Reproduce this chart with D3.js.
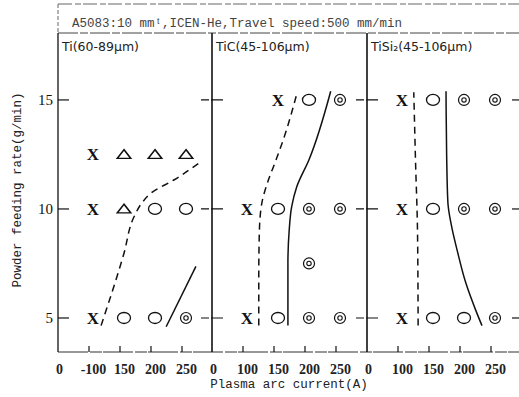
<!DOCTYPE html>
<html>
<head>
<meta charset="utf-8">
<script src="https://cdn.jsdelivr.net/npm/d3@7"></script>
<style>
  body { margin: 0; background: #fff; }
  svg { display: block; }
  .serif { font-family: "Liberation Serif", "Times New Roman", serif; }
</style>
</head>
<body>
<div id="chart"></div>
<script>
// Chart data
var panels = ["Ti(60-89\u03bcm)", "TiC(45-106\u03bcm)", "TiSi\u2082(45-106\u03bcm)"];
var xTicks = [50, 100, 150, 200, 250];
var xTickLabels = [["0", "-100", "150", "200", "250"], ["0", "100", "150", "200", "250"], ["0", "100", "150", "200", "250"]];
var yTicks = [5, 10, 15];
var headerText = "A5083:10 mm\u1d57,ICEN-He,Travel speed:500 mm/min";

// markers: [panel, current, feed rate, type]  x = no bead, t = triangle, o = circle, d = double circle
var markers = [
  [0, 100, 12.5, "x"], [0, 150, 12.5, "t"], [0, 200, 12.5, "t"], [0, 250, 12.5, "t"],
  [0, 100, 10, "x"], [0, 150, 10, "t"], [0, 200, 10, "o"], [0, 250, 10, "o"],
  [0, 100, 5, "x"], [0, 150, 5, "o"], [0, 200, 5, "o"], [0, 250, 5, "d"],
  [1, 150, 15, "x"], [1, 200, 15, "o"], [1, 250, 15, "d"],
  [1, 100, 10, "x"], [1, 150, 10, "o"], [1, 200, 10, "d"], [1, 250, 10, "d"],
  [1, 200, 7.5, "d"],
  [1, 100, 5, "x"], [1, 150, 5, "o"], [1, 200, 5, "d"], [1, 250, 5, "d"],
  [2, 100, 15, "x"], [2, 150, 15, "o"], [2, 200, 15, "d"], [2, 250, 15, "d"],
  [2, 100, 10, "x"], [2, 150, 10, "o"], [2, 200, 10, "d"], [2, 250, 10, "d"],
  [2, 100, 5, "x"], [2, 150, 5, "o"], [2, 200, 5, "o"], [2, 250, 5, "d"]
];

// boundary lines [current, feed rate]
var tiDashed = [[113, 4.65], [150, 7.97], [166, 9.63], [179, 10.28], [194, 10.74], [231, 11.34], [273, 12.15]];
var tiSolid = [[218, 4.6], [266, 7.37]];
var ticDashed = [[181, 15.35], [160, 13.3], [147, 12.26], [133, 11.2], [124, 10.28], [120, 9.0], [119, 7.0], [119, 4.65]];
var ticSolid = [[235, 15.4], [200, 12.26], [180, 11.0], [172, 10.1], [168, 9.0], [166, 7.5], [166, 4.65]];
var tisiDashed = [[119, 15.35], [122, 12], [125, 9], [126, 4.65]];
var tisiSolid = [[171, 15.4], [172, 12.5], [174, 10.3], [180, 9.2], [189, 8.1], [203, 6.6], [219, 5.35], [229, 4.65]];

var lines = [
  { panel: 0, pts: tiDashed, dash: true },
  { panel: 0, pts: tiSolid, dash: false },
  { panel: 1, pts: ticDashed, dash: true },
  { panel: 1, pts: ticSolid, dash: false },
  { panel: 2, pts: tisiDashed, dash: true },
  { panel: 2, pts: tisiSolid, dash: false }
];

var W = 519, H = 397;
var panelLeft = [58, 212, 367];
var plotTop = 33, plotBottom = 352, headTop = 4;

var svg = d3.select("#chart").append("svg").attr("width", W).attr("height", H);

var y = d3.scaleLinear().domain([3.44, 18.07]).range([plotBottom, plotTop]);
// each panel has the same broken current axis, offset by panel left
var x = d3.scaleLinear().domain([100, 250]).range([35, 128]);
function px(p, a) { return panelLeft[p] + x(a); }

var ink = "#111";

// header box
svg.append("line").attr("x1", 58).attr("x2", W).attr("y1", headTop).attr("y2", headTop)
  .attr("stroke", "#666").attr("stroke-width", 1).attr("stroke-dasharray", "14,3,6,2");
svg.append("line").attr("x1", 58).attr("x2", 58).attr("y1", headTop).attr("y2", plotTop)
  .attr("stroke", "#666").attr("stroke-width", 1).attr("stroke-dasharray", "4,2");
svg.append("line").attr("x1", 58).attr("x2", W).attr("y1", plotTop).attr("y2", plotTop)
  .attr("stroke", "#444").attr("stroke-width", 1).attr("stroke-dasharray", "20,2,8,2");
svg.append("text").attr("x", 72).attr("y", 27)
  .style("font-family", "'Liberation Mono', monospace").style("font-size", "12.5px")
  .attr("fill", "#444").text(headerText);

// axis frame
svg.append("line").attr("x1", 58).attr("x2", 58).attr("y1", plotTop).attr("y2", plotBottom)
  .attr("stroke", ink).attr("stroke-width", 1.3);
svg.append("line").attr("x1", 58).attr("x2", W).attr("y1", plotBottom).attr("y2", plotBottom)
  .attr("stroke", "#333").attr("stroke-width", 1.2).attr("stroke-dasharray", "30,2,12,1");
panelLeft.slice(1).forEach(function(l) {
  svg.append("line").attr("x1", l).attr("x2", l).attr("y1", plotTop).attr("y2", plotBottom)
    .attr("stroke", ink).attr("stroke-width", 1.6);
});

// panel labels
panels.forEach(function(name, i) {
  svg.append("text").attr("x", panelLeft[i] + 4).attr("y", 51)
    .style("font-family", "'DejaVu Sans', sans-serif").style("font-size", "12.5px")
    .attr("fill", "#222").text(name);
});

// y axis: ticks on left axis, crosses on dividers, stub at right
var yAxis = d3.axisLeft(y).tickValues(yTicks).tickSize(0).tickPadding(5).tickFormat(d3.format("d"));
var yg = svg.append("g").attr("transform", "translate(58,0)").call(yAxis)
  .attr("font-family", null).attr("font-size", null);
yg.select(".domain").remove();
yg.selectAll("text").attr("class", "serif").style("font-size", "15px").attr("fill", ink);

yTicks.forEach(function(v) {
  svg.append("line").attr("x1", 58).attr("x2", 69).attr("y1", y(v)).attr("y2", y(v))
    .attr("stroke", ink).attr("stroke-width", 1.2);
  panelLeft.slice(1).forEach(function(l) {
    svg.append("line").attr("x1", l - 11).attr("x2", l + 11).attr("y1", y(v)).attr("y2", y(v))
      .attr("stroke", ink).attr("stroke-width", 1.2).attr("stroke-dasharray", "8,2,12");
  });
  svg.append("line").attr("x1", 512).attr("x2", W).attr("y1", y(v)).attr("y2", y(v))
    .attr("stroke", ink).attr("stroke-width", 1.2);
});

// x axes for each panel
panels.forEach(function(name, p) {
  var sx = d3.scaleLinear().domain(x.domain()).range(x.range().map(function(r) { return r + panelLeft[p]; }));
  var ax = d3.axisBottom(sx).tickValues(xTicks).tickSize(0).tickPadding(12)
    .tickFormat(function(d, i) { return xTickLabels[p][i]; });
  var g = svg.append("g").attr("transform", "translate(0," + plotBottom + ")").call(ax)
    .attr("font-family", null).attr("font-size", null);
  g.select(".domain").remove();
  g.selectAll("text").attr("class", "serif").style("font-size", "14px")
    .style("font-weight", "bold").attr("fill", "#222")
    .attr("x", function(d) { return d === 50 ? -3 : 0; });
  xTicks.slice(1).forEach(function(t) {
    svg.append("line").attr("x1", sx(t) - 4).attr("x2", sx(t) - 4)
      .attr("y1", plotBottom).attr("y2", plotBottom - 6)
      .attr("stroke", ink).attr("stroke-width", 1.2);
  });
});

// axis titles
svg.append("text").attr("x", 289).attr("y", 388).attr("text-anchor", "middle")
  .style("font-family", "'Liberation Mono', monospace").style("font-size", "12.5px")
  .attr("fill", "#222").text("Plasma arc current(A)");
svg.append("text").attr("transform", "translate(21,190) rotate(-90)").attr("text-anchor", "middle")
  .style("font-family", "'Liberation Mono', monospace").style("font-size", "12.5px")
  .attr("fill", "#222").text("Powder feeding rate(g/min)");

// boundary lines
var lineGen = d3.line()
  .curve(d3.curveMonotoneY)
  .y(function(d) { return y(d[1]); });
lines.forEach(function(l) {
  lineGen.x(function(d) { return px(l.panel, d[0]); });
  svg.append("path").attr("d", lineGen(l.pts.slice().sort(function(a, b) { return a[1] - b[1]; })))
    .attr("fill", "none").attr("stroke", ink).attr("stroke-width", 1.5)
    .attr("stroke-dasharray", l.dash ? "7,5" : null);
});

// markers
var mg = svg.append("g");
markers.forEach(function(m) {
  var cx = px(m[0], m[1]), cy = y(m[2]);
  if (m[3] === "x") {
    mg.append("text").attr("x", cx).attr("y", cy + 6).attr("text-anchor", "middle")
      .attr("class", "serif").style("font-size", "17px")
      .style("font-weight", "bold").attr("fill", ink).text("X");
  } else if (m[3] === "t") {
    var tri = d3.symbol().type(d3.symbolTriangle).size(60);
    mg.append("path").attr("d", tri()).attr("transform", "translate(" + cx + "," + (cy + 1) + ") scale(1.15,0.85)")
      .attr("fill", "none").attr("stroke", ink).attr("stroke-width", 1.5);
  } else if (m[3] === "o") {
    mg.append("ellipse").attr("cx", cx).attr("cy", cy).attr("rx", 6.5).attr("ry", 5.5)
      .attr("fill", "none").attr("stroke", ink).attr("stroke-width", 1.3);
  } else {
    mg.append("circle").attr("cx", cx).attr("cy", cy).attr("r", 5.5)
      .attr("fill", "none").attr("stroke", ink).attr("stroke-width", 1.2);
    mg.append("circle").attr("cx", cx).attr("cy", cy).attr("r", 2.2)
      .attr("fill", "none").attr("stroke", ink).attr("stroke-width", 1.1);
  }
});
</script>
</body>
</html>
